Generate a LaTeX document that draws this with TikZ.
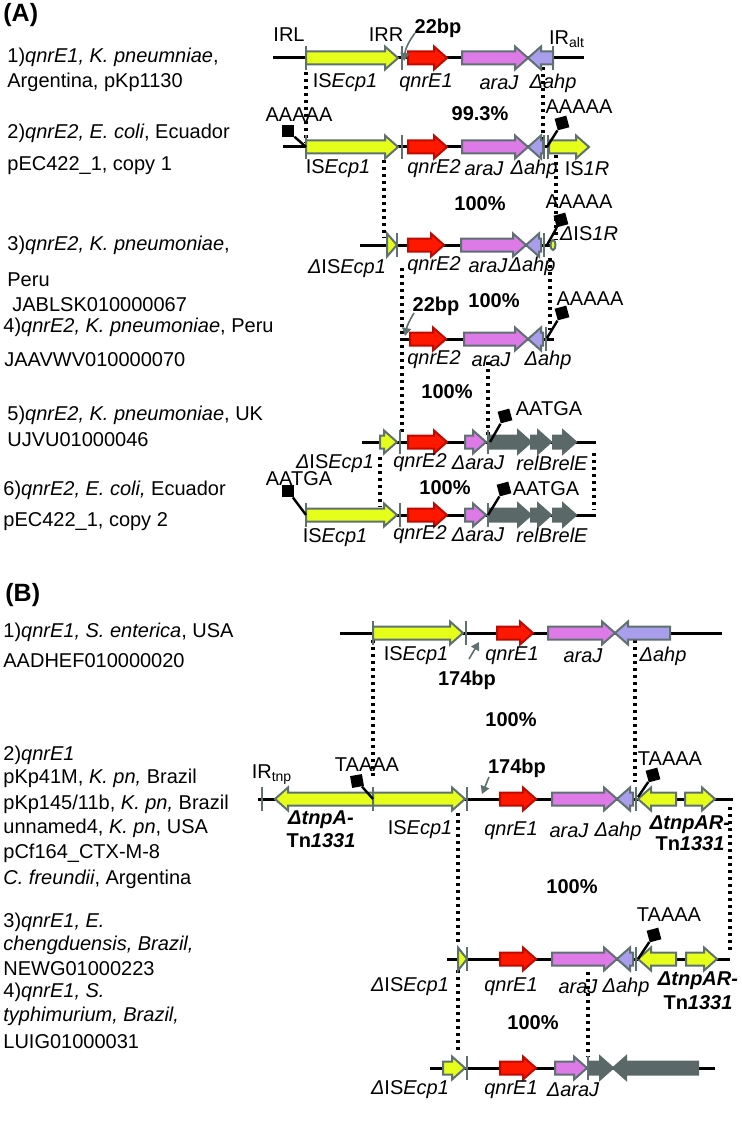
\documentclass[tikz,border=0pt]{standalone}
\usepackage{fontspec}
\setmainfont{Liberation Sans}
\usetikzlibrary{arrows.meta}

\definecolor{isyellow}{RGB}{230,255,26}
\definecolor{edgegray}{RGB}{94,112,112}
\definecolor{qnrred}{RGB}{255,24,0}
\definecolor{qnredge}{RGB}{190,10,0}
\definecolor{arapink}{RGB}{222,122,232}
\definecolor{ahplav}{RGB}{168,158,236}
\definecolor{toxgray}{RGB}{90,104,104}

% gene arrow: style, tail x, tip x, y
\newcommand{\gene}[4]{%
  \pgfmathsetmacro{\gs}{(#3>#2)?1:-1}%
  \pgfmathsetmacro{\gh}{min(13,abs(#3-#2))}%
  \pgfmathsetmacro{\gn}{#3-(\gs)*(\gh)}%
  \draw[gene,#1] (#2,#4-6.5) -- (\gn,#4-6.5) -- (\gn,#4-11.5) -- (#3,#4)
    -- (\gn,#4+11.5) -- (\gn,#4+6.5) -- (#2,#4+6.5) -- cycle;}
% inverted repeat bar: x, y
\newcommand{\irb}[2]{\draw[irbar] (#1,#2-12) -- (#1,#2+12);}
% target site flag: [rotation] name, box x, box y, track x, track y
\newcommand{\flag}[6][0]{%
  \coordinate (#2-t) at (#5,#6);
  \node[flagbox, rotate=#1] (#2) at (#3,#4) {};
  \draw[flagstick] (#2) -- (#2-t);}
% homology line: name, x, top y, bottom y
\newcommand{\homol}[4]{%
  \coordinate (#1-a) at (#2,#3);
  \coordinate (#1-b) at (#2,#4);
  \draw[homolline] (#1-a) -- (#1-b);}

\begin{document}
\begin{tikzpicture}[
    x = 0.5pt, y = -0.5pt, % one unit = one pixel, y going down
    every node/.style = {font=\fontsize{10}{12}\selectfont, inner sep=0pt},
    panel/.style = {anchor=west, font=\fontsize{12.5}{14}\selectfont\bfseries},
    lab/.style = {anchor=west},
    glab/.style = {font=\fontsize{10}{12}\selectfont\itshape},
    pct/.style = {font=\fontsize{10}{12}\selectfont\bfseries},
    tnlab/.style = {font=\fontsize{10}{12}\selectfont\bfseries\itshape},
    track/.style = {line width=1.5pt, black},
    gene/.style = {line width=1pt, draw=edgegray, line join=miter},
    isy/.style = {fill=isyellow},
    qnr/.style = {fill=qnrred, draw=qnredge},
    ara/.style = {fill=arapink},
    ahp/.style = {fill=ahplav},
    tox/.style = {fill=toxgray, draw=toxgray},
    irbar/.style = {line width=1.25pt, edgegray},
    flagbox/.style = {fill=black, minimum size=6pt},
    flagstick/.style = {line width=1.2pt, black},
    homolline/.style = {line width=1.8pt, black, dash pattern=on 1.6pt off 1.9pt},
    bparrow/.style = {line width=0.8pt, edgegray, -{Triangle[length=4pt, width=4.5pt]}}
  ]
  \useasboundingbox (0,0) rectangle (742,1123);

  % ---------------- panel A ----------------
  \node[panel] (pA) at (3,15) {(A)};

  \node[lab] (a1l1) at (7,57) {1)\textit{qnrE1, K. pneumniae},};
  \node[lab] (a1l2) at (7,82) {Argentina, pKp1130};
  \node[lab] (a2l1) at (7,133) {2)\textit{qnrE2, E. coli}, Ecuador};
  \node[lab] (a2l2) at (7,166) {pEC422\_1, copy 1};
  \node[lab] (a3l1) at (7,245) {3)\textit{qnrE2, K. pneumoniae},};
  \node[lab] (a3l2) at (7,280) {Peru};
  \node[lab] (a3l3) at (12,305) {JABLSK010000067};
  \node[lab] (a4l1) at (3,327) {4)\textit{qnrE2, K. pneumoniae}, Peru};
  \node[lab] (a4l2) at (4,360) {JAAVWV010000070};
  \node[lab] (a5l1) at (7,415) {5)\textit{qnrE2, K. pneumoniae}, UK};
  \node[lab] (a5l2) at (7,440) {UJVU01000046};
  \node[lab] (a6l1) at (3,490) {6)\textit{qnrE2, E. coli,} Ecuador};
  \node[lab] (a6l2) at (3,522) {pEC422\_1, copy 2};

  % homology lines
  \homol{hA1}{306}{72}{143}
  \homol{hA2}{543}{67}{140}
  \homol{hA3}{384}{160}{238}
  \homol{hA4}{556}{155}{240}
  \homol{hA5}{402}{268}{435}
  \homol{hA6}{550}{258}{330}
  \homol{hA7}{488}{362}{437}
  \homol{hA8}{380}{457}{507}
  \homol{hA9}{594}{453}{510}

  % row 1
  \draw[track] (273,58) -- (584,58);
  \gene{isy}{306}{398}{58}
  \gene{qnr}{408}{447}{58}
  \gene{ara}{462}{528}{58}
  \gene{ahp}{553}{528}{58}
  \irb{306}{58} \irb{402}{58} \irb{553}{58}
  \node (irl) at (289,35) {IRL};
  \node (irr) at (386,35) {IRR};
  \node (iralt) at (567,39) {IR\textsubscript{alt}};
  \node[pct] (bp1) at (438,28) {22bp};
  \coordinate (bp1t) at (404,61);
  \draw[bparrow] (415,33) to[bend right=15] (bp1t);
  \node[glab] (a1is) at (345,83) {\textup{IS}Ecp1};
  \node[glab] (a1q) at (426,83) {qnrE1};
  \node[glab] (a1a) at (499,83) {araJ};
  \node[glab] (a1h) at (553,83) {Δahp};
  \node[pct] (p1) at (480,114) {99.3\%};

  % row 2
  \draw[track] (283,147) -- (589,147);
  \gene{isy}{306}{398}{147}
  \gene{qnr}{408}{447}{147}
  \gene{ara}{462}{528}{147}
  \gene{ahp}{543}{528}{147}
  \gene{isy}{549}{589}{147}
  \irb{306}{147} \irb{402}{147} \irb{544}{147} \irb{548}{147}
  \flag{f2a}{288}{131}{306}{147}
  \flag[15]{f2b}{562}{123}{547}{147}
  \node (t2a) at (299,115) {AAAAA};
  \node (t2b) at (579,107) {AAAAA};
  \node[glab] (a2is) at (338,169) {\textup{IS}Ecp1};
  \node[glab] (a2q) at (434,169) {qnrE2};
  \node[glab] (a2a) at (484,169) {araJ};
  \node[glab] (a2h) at (534,169) {Δahp};
  \node[glab] (a2r) at (587,169) {\textup{IS}1R};
  \node[pct] (p2) at (480,204) {100\%};

  % row 3
  \draw[track] (360,245) -- (556,245);
  \gene{isy}{387}{397}{245}
  \gene{qnr}{408}{444}{245}
  \gene{ara}{461}{526}{245}
  \gene{ahp}{541}{526}{245}
  \draw[gene, isy] (553,245) ellipse (2.5 and 5);
  \irb{397}{245} \irb{544}{245}
  \flag[15]{f3}{561}{220}{547}{245}
  \node (t3) at (579,202) {AAAAA};
  \node[glab] (a3r) at (589,234) {Δ\textup{IS}1R};
  \node[glab] (a3is) at (347,269) {Δ\textup{IS}Ecp1};
  \node[glab] (a3q) at (434,266) {qnrE2};
  \node[glab] (a3a) at (488,266) {araJ};
  \node[glab] (a3h) at (532,266) {Δahp};

  % row 4
  \draw[track] (402,339) -- (554,339);
  \gene{qnr}{410}{446}{339}
  \gene{ara}{464}{528}{339}
  \gene{ahp}{543}{528}{339}
  \irb{546}{339}
  \flag[15]{f4}{562}{313}{547}{338}
  \node (t4) at (590,299) {AAAAA};
  \node[pct] (bp4) at (436,306) {22bp};
  \coordinate (bp4t) at (405,336);
  \draw[bparrow] (414,313) to[bend right=10] (bp4t);
  \node[pct] (p3) at (494,301) {100\%};
  \node[glab] (a4q) at (434,360) {qnrE2};
  \node[glab] (a4a) at (491,360) {araJ};
  \node[glab] (a4h) at (548,360) {Δahp};
  \node[pct] (p4) at (447,392) {100\%};

  % row 5
  \draw[track] (362,442) -- (596,442);
  \gene{isy}{380}{397}{442}
  \gene{qnr}{408}{447}{442}
  \gene{ara}{465}{486}{442}
  \gene{tox}{488}{531}{442}
  \gene{tox}{531}{551}{442}
  \gene{tox}{553}{576}{442}
  \irb{400}{442} \irb{488}{442}
  \flag[15]{f5}{505}{416}{490}{442}
  \node (t5) at (549,409) {AATGA};
  \node[glab] (a5is) at (335,464) {Δ\textup{IS}Ecp1};
  \node[glab] (a5q) at (420,463) {qnrE2};
  \node[glab] (a5a) at (478,463) {ΔaraJ};
  \node[glab] (a5r) at (552,463) {relBrelE};
  \node[pct] (p5) at (445,488) {100\%};

  % row 6
  \draw[track] (306,515) -- (596,515);
  \gene{isy}{306}{397}{515}
  \gene{qnr}{408}{447}{515}
  \gene{ara}{465}{486}{515}
  \gene{tox}{488}{531}{515}
  \gene{tox}{531}{551}{515}
  \gene{tox}{553}{576}{515}
  \irb{306}{515} \irb{400}{515} \irb{488}{515}
  \flag{f6a}{288}{491}{306}{515}
  \flag[15]{f6b}{504}{489}{488}{515}
  \node (t6a) at (299,479) {AATGA};
  \node (t6b) at (546,489) {AATGA};
  \node[glab] (a6is) at (335,538) {\textup{IS}Ecp1};
  \node[glab] (a6q) at (420,535) {qnrE2};
  \node[glab] (a6a) at (478,535) {ΔaraJ};
  \node[glab] (a6r) at (552,535) {relBrelE};

  % ---------------- panel B ----------------
  \node[panel] (pB) at (5,595) {(B)};

  \node[lab] (b1l1) at (3,632) {1)\textit{qnrE1, S. enterica}, USA};
  \node[lab] (b1l2) at (3,661) {AADHEF010000020};
  \node[lab] (b2l1) at (3,755) {2)\textit{qnrE1}};
  \node[lab] (b2l2) at (3,778) {pKp41M, \textit{K. pn,} Brazil};
  \node[lab] (b2l3) at (3,804) {pKp145/11b, \textit{K. pn,} Brazil};
  \node[lab] (b2l4) at (3,828) {unnamed4, \textit{K. pn}, USA};
  \node[lab] (b2l5) at (3,853) {pCf164\_CTX-M-8};
  \node[lab] (b2l6) at (3,879) {\textit{C. freundii}, Argentina};
  \node[lab] (b3l1) at (3,922) {3)\textit{qnrE1, E.}};
  \node[lab] (b3l2) at (3,945) {\textit{chengduensis, Brazil,}};
  \node[lab] (b3l3) at (3,969) {NEWG01000223};
  \node[lab] (b4l1) at (3,992) {4)\textit{qnrE1, S.}};
  \node[lab] (b4l2) at (3,1016) {\textit{typhimurium, Brazil,}};
  \node[lab] (b4l3) at (3,1042) {LUIG01000031};

  % homology lines
  \homol{hB1}{373}{640}{778}
  \homol{hB2}{635}{640}{782}
  \homol{hB3}{458}{813}{943}
  \homol{hB4}{730}{807}{950}
  \homol{hB5}{458}{970}{1050}
  \homol{hB6}{588}{972}{1057}

  % row 1
  \draw[track] (340,633) -- (722,633);
  \gene{isy}{373}{463}{633}
  \gene{qnr}{497}{533}{633}
  \gene{ara}{548}{615}{633}
  \gene{ahp}{670}{615}{633}
  \irb{373}{633} \irb{466}{633}
  \node[glab] (b1is) at (416,656) {\textup{IS}Ecp1};
  \node[glab] (b1q) at (512,656) {qnrE1};
  \node[glab] (b1a) at (583,656) {araJ};
  \node[glab] (b1h) at (663,656) {Δahp};
  \node[pct] (bpb1) at (467,680) {174bp};
  \coordinate (bpb1t) at (479,642);
  \draw[bparrow] (469,659) -- (bpb1t);
  \node[pct] (pb1) at (511,720) {100\%};

  % row 2
  \draw[track] (258,799) -- (733,799);
  \gene{isy}{373}{275}{799}
  \gene{isy}{373}{465}{799}
  \gene{qnr}{500}{536}{799}
  \gene{ara}{552}{617}{799}
  \gene{ahp}{633}{617}{799}
  \gene{isy}{676}{638}{799}
  \gene{isy}{685}{715}{799}
  \irb{262}{799} \irb{373}{799} \irb{467}{799} \irb{636}{799}
  \flag[10]{fb2a}{357}{781}{373}{799}
  \flag[15]{fb2b}{653}{775}{638}{797}
  \node (tb2a) at (367,765) {TAAAA};
  \node (tb2b) at (670,759) {TAAAA};
  \node (irtnp) at (272,775) {IR\textsubscript{tnp}};
  \node[pct] (bpb2) at (517,768) {174bp};
  \coordinate (bpb2t) at (482,794);
  \draw[bparrow] (489,777) -- (bpb2t);
  \node[tnlab] (b2t1) at (321,820) {ΔtnpA-};
  \node[pct] (b2t2) at (321,841) {Tn\textit{1331}};
  \node[glab] (b2is) at (420,830) {\textup{IS}Ecp1};
  \node[glab] (b2q) at (511,831) {qnrE1};
  \node[glab] (b2a) at (569,831) {araJ};
  \node[glab] (b2h) at (618,831) {Δahp};
  \node[tnlab] (b2t3) at (690,825) {ΔtnpAR-};
  \node[pct] (b2t4) at (690,844) {Tn\textit{1331}};
  \node[pct] (pb2) at (572,887) {100\%};

  % row 3
  \draw[track] (447,959) -- (730,959);
  \gene{isy}{458}{467}{959}
  \gene{qnr}{500}{536}{959}
  \gene{ara}{552}{617}{959}
  \gene{ahp}{633}{617}{959}
  \gene{isy}{676}{638}{959}
  \gene{isy}{686}{717}{959}
  \irb{467}{959} \irb{636}{959}
  \flag[15]{fb3}{654}{935}{638}{959}
  \node (tb3) at (669,915) {TAAAA};
  \node[glab] (b3is) at (410,987) {Δ\textup{IS}Ecp1};
  \node[glab] (b3q) at (511,987) {qnrE1};
  \node[glab] (b3a) at (578,987) {araJ};
  \node[glab] (b3h) at (626,987) {Δahp};
  \node[tnlab] (b3t1) at (698,981) {ΔtnpAR-};
  \node[pct] (b3t2) at (698,1003) {Tn\textit{1331}};
  \node[pct] (pb3) at (533,1023) {100\%};

  % row 4
  \draw[track] (430,1068) -- (715,1068);
  \gene{isy}{443}{465}{1068}
  \gene{qnr}{500}{536}{1068}
  \gene{ara}{555}{587}{1068}
  \gene{tox}{588}{613}{1068}
  \gene{tox}{698}{613}{1068}
  \irb{467}{1068} \irb{588}{1068}
  \node[glab] (b4is) at (410,1090) {Δ\textup{IS}Ecp1};
  \node[glab] (b4q) at (511,1090) {qnrE1};
  \node[glab] (b4a) at (573,1090) {ΔaraJ};
\end{tikzpicture}
\end{document}
